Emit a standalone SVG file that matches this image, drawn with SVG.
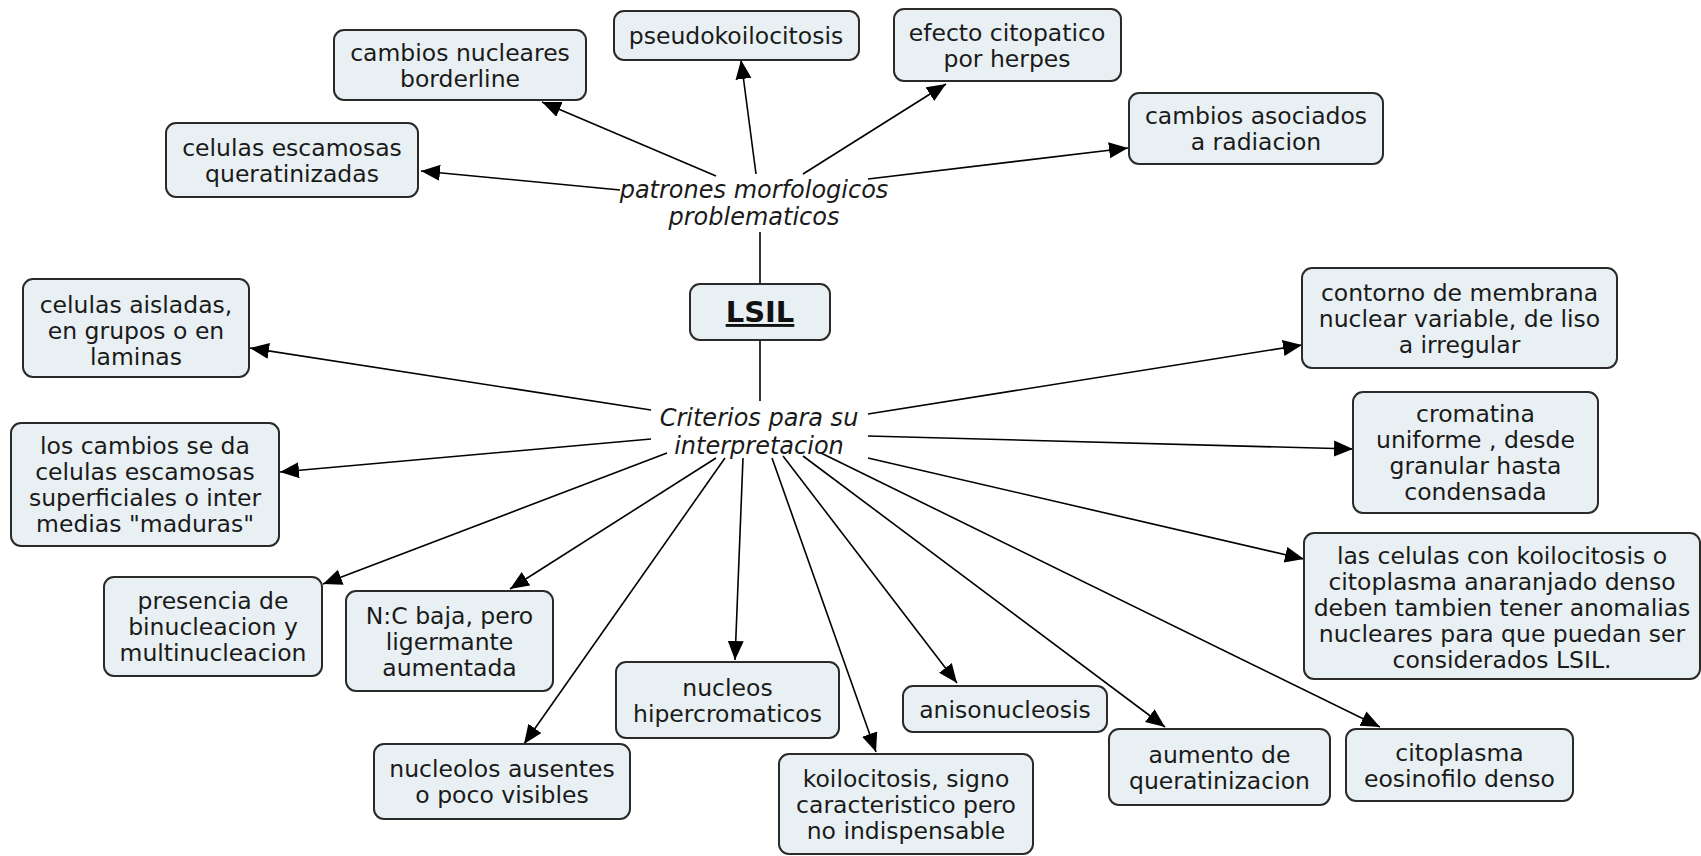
<svg xmlns="http://www.w3.org/2000/svg" width="1701" height="856" viewBox="0 0 1701 856">
<defs>
<marker id="arr" markerUnits="userSpaceOnUse" markerWidth="22" markerHeight="18" refX="19" refY="8" orient="auto"><path d="M0,0 L19,8 L0,16 z" fill="#000"/></marker>
<style>
.box{fill:#e9f0f3;stroke:#2a2a2a;stroke-width:2}
.t{font-family:"DejaVu Sans","Verdana",sans-serif;font-size:23.5px;fill:#1a1a1a;text-anchor:middle}
.lp{font-family:"DejaVu Sans","Verdana",sans-serif;font-size:24px;font-style:italic;fill:#1a1a1a;text-anchor:middle}
.ln{stroke:#000;stroke-width:1.6;fill:none}
.ar{stroke:#000;stroke-width:1.6;fill:none;marker-end:url(#arr)}
</style>
</defs>
<rect width="1701" height="856" fill="#fff"/>
<g id="connectors">
<line class="ln" x1="760" y1="232" x2="760" y2="284"/>
<line class="ln" x1="760" y1="340" x2="760" y2="401"/>
<line class="ar" x1="620" y1="190" x2="421" y2="171"/>
<line class="ar" x1="716" y1="176" x2="542" y2="102"/>
<line class="ar" x1="756" y1="174" x2="741" y2="60"/>
<line class="ar" x1="803" y1="174" x2="946" y2="84"/>
<line class="ar" x1="868" y1="179" x2="1128" y2="148"/>
<line class="ar" x1="651" y1="410" x2="250" y2="348"/>
<line class="ar" x1="651" y1="439" x2="280" y2="472"/>
<line class="ar" x1="667" y1="453" x2="323" y2="584"/>
<line class="ar" x1="716" y1="458" x2="510" y2="589"/>
<line class="ar" x1="725" y1="458" x2="524" y2="744"/>
<line class="ar" x1="743" y1="458" x2="735" y2="660"/>
<line class="ar" x1="772" y1="458" x2="876" y2="752"/>
<line class="ar" x1="783" y1="456" x2="957" y2="683"/>
<line class="ar" x1="803" y1="456" x2="1165" y2="727"/>
<line class="ar" x1="821" y1="453" x2="1380" y2="727"/>
<line class="ar" x1="868" y1="458" x2="1304" y2="559"/>
<line class="ar" x1="868" y1="436" x2="1353" y2="449"/>
<line class="ar" x1="868" y1="414" x2="1302" y2="345"/>
</g>
<g id="lp-patrones"><text class="lp" x="754" y="198">patrones morfologicos</text><text class="lp" x="754" y="225">problematicos</text></g>
<g id="lp-criterios"><text class="lp" x="759" y="426">Criterios para su</text><text class="lp" x="759" y="454">interpretacion</text></g>
<g id="n-lsil"><rect class="box" x="690" y="284" width="140" height="56" rx="10"/><text x="760" y="322" font-family="DejaVu Sans,Verdana,sans-serif" font-size="29" font-weight="bold" text-anchor="middle" text-decoration="underline" fill="#111">LSIL</text></g>
<g id="n-borderline"><rect class="box" x="334" y="30" width="252" height="70" rx="10"/><text class="t" x="460" y="61">cambios nucleares</text><text class="t" x="460" y="87">borderline</text></g>
<g id="n-pseudo"><rect class="box" x="614" y="11" width="245" height="49" rx="10"/><text class="t" x="736" y="44">pseudokoilocitosis</text></g>
<g id="n-herpes"><rect class="box" x="894" y="9" width="227" height="72" rx="10"/><text class="t" x="1007" y="41">efecto citopatico</text><text class="t" x="1007" y="67">por herpes</text></g>
<g id="n-queratinizadas"><rect class="box" x="166" y="123" width="252" height="74" rx="10"/><text class="t" x="292" y="156">celulas escamosas</text><text class="t" x="292" y="182">queratinizadas</text></g>
<g id="n-radiacion"><rect class="box" x="1129" y="93" width="254" height="71" rx="10"/><text class="t" x="1256" y="124">cambios asociados</text><text class="t" x="1256" y="150">a radiacion</text></g>
<g id="n-aisladas"><rect class="box" x="23" y="279" width="226" height="98" rx="10"/><text class="t" x="136" y="313">celulas aisladas,</text><text class="t" x="136" y="339">en grupos o en</text><text class="t" x="136" y="365">laminas</text></g>
<g id="n-loscambios"><rect class="box" x="11" y="423" width="268" height="123" rx="10"/><text class="t" x="145" y="454">los cambios se da</text><text class="t" x="145" y="480">celulas escamosas</text><text class="t" x="145" y="506">superficiales o inter</text><text class="t" x="145" y="532">medias "maduras"</text></g>
<g id="n-presencia"><rect class="box" x="104" y="577" width="218" height="99" rx="10"/><text class="t" x="213" y="609">presencia de</text><text class="t" x="213" y="635">binucleacion y</text><text class="t" x="213" y="661">multinucleacion</text></g>
<g id="n-nc"><rect class="box" x="346" y="591" width="207" height="100" rx="10"/><text class="t" x="449.5" y="624">N:C baja, pero</text><text class="t" x="449.5" y="650">ligermante</text><text class="t" x="449.5" y="676">aumentada</text></g>
<g id="n-nucleolos"><rect class="box" x="374" y="744" width="256" height="75" rx="10"/><text class="t" x="502" y="777">nucleolos ausentes</text><text class="t" x="502" y="803">o poco visibles</text></g>
<g id="n-nucleos"><rect class="box" x="616" y="662" width="223" height="76" rx="10"/><text class="t" x="727.5" y="696">nucleos</text><text class="t" x="727.5" y="722">hipercromaticos</text></g>
<g id="n-koilocitosis"><rect class="box" x="779" y="754" width="254" height="100" rx="10"/><text class="t" x="906" y="787">koilocitosis, signo</text><text class="t" x="906" y="813">caracteristico pero</text><text class="t" x="906" y="839">no indispensable</text></g>
<g id="n-aniso"><rect class="box" x="903" y="686" width="204" height="46" rx="10"/><text class="t" x="1005" y="718">anisonucleosis</text></g>
<g id="n-aumento"><rect class="box" x="1109" y="729" width="221" height="76" rx="10"/><text class="t" x="1219.5" y="763">aumento de</text><text class="t" x="1219.5" y="789">queratinizacion</text></g>
<g id="n-citoplasma"><rect class="box" x="1346" y="729" width="227" height="72" rx="10"/><text class="t" x="1459.5" y="761">citoplasma</text><text class="t" x="1459.5" y="787">eosinofilo denso</text></g>
<g id="n-contorno"><rect class="box" x="1302" y="268" width="315" height="100" rx="10"/><text class="t" x="1459.5" y="301">contorno de membrana</text><text class="t" x="1459.5" y="327">nuclear variable, de liso</text><text class="t" x="1459.5" y="353">a irregular</text></g>
<g id="n-cromatina"><rect class="box" x="1353" y="392" width="245" height="121" rx="10"/><text class="t" x="1475.5" y="422">cromatina</text><text class="t" x="1475.5" y="448">uniforme , desde</text><text class="t" x="1475.5" y="474">granular hasta</text><text class="t" x="1475.5" y="500">condensada</text></g>
<g id="n-lascelulas"><rect class="box" x="1304" y="533" width="396" height="146" rx="10"/><text class="t" x="1502" y="564">las celulas con koilocitosis o</text><text class="t" x="1502" y="590">citoplasma anaranjado denso</text><text class="t" x="1502" y="616">deben tambien tener anomalias</text><text class="t" x="1502" y="642">nucleares para que puedan ser</text><text class="t" x="1502" y="668">considerados LSIL.</text></g>
</svg>
